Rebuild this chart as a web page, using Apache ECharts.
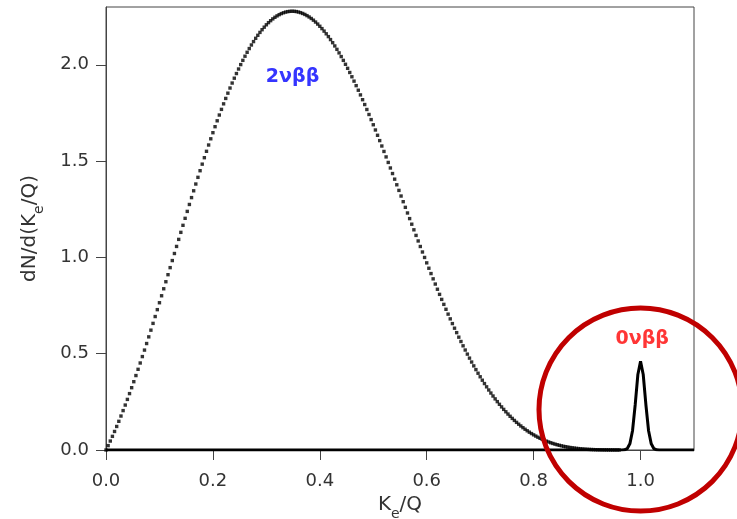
<!DOCTYPE html>
<html>
<head>
<meta charset="utf-8">
<script src="https://cdn.jsdelivr.net/npm/echarts@6/dist/echarts.min.js"></script>
<style>
  html, body { margin: 0; padding: 0; background: #fff; }
  #chart { width: 737px; height: 519px; }
</style>
</head>
<body>
<div id="chart"></div>
<script>
// Two-neutrino double-beta spectrum: summed electron energy K_e/Q
const twoNuX = [
  0.000, 0.004, 0.008, 0.012, 0.016, 0.020, 0.024, 0.028, 0.032, 0.036,
  0.040, 0.044, 0.048, 0.052, 0.056, 0.060, 0.064, 0.068, 0.072, 0.076,
  0.080, 0.084, 0.088, 0.092, 0.096, 0.100, 0.104, 0.108, 0.112, 0.116,
  0.120, 0.124, 0.128, 0.132, 0.136, 0.140, 0.144, 0.148, 0.152, 0.156,
  0.160, 0.164, 0.168, 0.172, 0.176, 0.180, 0.184, 0.188, 0.192, 0.196,
  0.200, 0.204, 0.208, 0.212, 0.216, 0.220, 0.224, 0.228, 0.232, 0.236,
  0.240, 0.244, 0.248, 0.252, 0.256, 0.260, 0.264, 0.268, 0.272, 0.276,
  0.280, 0.284, 0.288, 0.292, 0.296, 0.300, 0.304, 0.308, 0.312, 0.316,
  0.320, 0.324, 0.328, 0.332, 0.336, 0.340, 0.344, 0.348, 0.352, 0.356,
  0.360, 0.364, 0.368, 0.372, 0.376, 0.380, 0.384, 0.388, 0.392, 0.396,
  0.400, 0.404, 0.408, 0.412, 0.416, 0.420, 0.424, 0.428, 0.432, 0.436,
  0.440, 0.444, 0.448, 0.452, 0.456, 0.460, 0.464, 0.468, 0.472, 0.476,
  0.480, 0.484, 0.488, 0.492, 0.496, 0.500, 0.504, 0.508, 0.512, 0.516,
  0.520, 0.524, 0.528, 0.532, 0.536, 0.540, 0.544, 0.548, 0.552, 0.556,
  0.560, 0.564, 0.568, 0.572, 0.576, 0.580, 0.584, 0.588, 0.592, 0.596,
  0.600, 0.604, 0.608, 0.612, 0.616, 0.620, 0.624, 0.628, 0.632, 0.636,
  0.640, 0.644, 0.648, 0.652, 0.656, 0.660, 0.664, 0.668, 0.672, 0.676,
  0.680, 0.684, 0.688, 0.692, 0.696, 0.700, 0.704, 0.708, 0.712, 0.716,
  0.720, 0.724, 0.728, 0.732, 0.736, 0.740, 0.744, 0.748, 0.752, 0.756,
  0.760, 0.764, 0.768, 0.772, 0.776, 0.780, 0.784, 0.788, 0.792, 0.796,
  0.800, 0.804, 0.808, 0.812, 0.816, 0.820, 0.824, 0.828, 0.832, 0.836,
  0.840, 0.844, 0.848, 0.852, 0.856, 0.860, 0.864, 0.868, 0.872, 0.876,
  0.880, 0.884, 0.888, 0.892, 0.896, 0.900, 0.904, 0.908, 0.912, 0.916,
  0.920, 0.924, 0.928, 0.932, 0.936, 0.940, 0.944, 0.948, 0.952, 0.956,
  0.960
];
const twoNuY = [
  0.0000, 0.0228, 0.0465, 0.0709, 0.0962, 0.1222, 0.1489, 0.1763, 0.2045, 0.2333,
  0.2627, 0.2928, 0.3235, 0.3547, 0.3865, 0.4189, 0.4517, 0.4850, 0.5187, 0.5528,
  0.5874, 0.6222, 0.6574, 0.6929, 0.7287, 0.7646, 0.8008, 0.8371, 0.8736, 0.9102,
  0.9468, 0.9835, 1.0202, 1.0569, 1.0935, 1.1300, 1.1665, 1.2028, 1.2388, 1.2748,
  1.3104, 1.3458, 1.3809, 1.4156, 1.4500, 1.4841, 1.5176, 1.5508, 1.5835, 1.6157,
  1.6474, 1.6786, 1.7092, 1.7391, 1.7685, 1.7972, 1.8253, 1.8526, 1.8793, 1.9052,
  1.9304, 1.9545, 1.9781, 2.0009, 2.0230, 2.0445, 2.0648, 2.0842, 2.1028, 2.1204,
  2.1374, 2.1531, 2.1681, 2.1821, 2.1952, 2.2076, 2.2188, 2.2290, 2.2383, 2.2466,
  2.2539, 2.2603, 2.2657, 2.2701, 2.2736, 2.2760, 2.2775, 2.2781, 2.2777, 2.2763,
  2.2739, 2.2707, 2.2664, 2.2613, 2.2552, 2.2482, 2.2404, 2.2316, 2.2219, 2.2114,
  2.2000, 2.1878, 2.1748, 2.1609, 2.1463, 2.1309, 2.1147, 2.0978, 2.0801, 2.0617,
  2.0427, 2.0229, 2.0026, 1.9816, 1.9600, 1.9378, 1.9151, 1.8917, 1.8679, 1.8436,
  1.8188, 1.7936, 1.7679, 1.7419, 1.7154, 1.6886, 1.6615, 1.6340, 1.6063, 1.5783,
  1.5500, 1.5217, 1.4930, 1.4642, 1.4353, 1.4062, 1.3770, 1.3478, 1.3186, 1.2892,
  1.2599, 1.2306, 1.2014, 1.1723, 1.1432, 1.1141, 1.0853, 1.0566, 1.0280, 0.9997,
  0.9716, 0.9437, 0.9160, 0.8886, 0.8615, 0.8346, 0.8081, 0.7819, 0.7561, 0.7306,
  0.7054, 0.6808, 0.6563, 0.6324, 0.6094, 0.5858, 0.5633, 0.5409, 0.5191, 0.4978,
  0.4770, 0.4567, 0.4368, 0.4174, 0.3985, 0.3802, 0.3623, 0.3449, 0.3280, 0.3116,
  0.2957, 0.2803, 0.2654, 0.2511, 0.2372, 0.2238, 0.2109, 0.1985, 0.1866, 0.1751,
  0.1641, 0.1536, 0.1435, 0.1339, 0.1248, 0.1160, 0.1077, 0.0998, 0.0924, 0.0853,
  0.0786, 0.0723, 0.0663, 0.0607, 0.0554, 0.0505, 0.0459, 0.0416, 0.0376, 0.0339,
  0.0305, 0.0273, 0.0244, 0.0217, 0.0192, 0.0170, 0.0149, 0.0131, 0.0114, 0.0099,
  0.0085, 0.0073, 0.0062, 0.0053, 0.0044, 0.0037, 0.0031, 0.0025, 0.0021, 0.0017,
  0.0013, 0.0010, 0.0008, 0.0006, 0.0005, 0.0003, 0.0002, 0.0002, 0.0001, 0.0001,
  0.0001
];

// Neutrinoless peak at the endpoint (zero elsewhere)
const zeroNuX = [0.0, 0.965, 0.970, 0.975, 0.980, 0.985, 0.990, 0.995, 1.000,
                 1.005, 1.010, 1.015, 1.020, 1.025, 1.030, 1.035, 1.1];
const zeroNuY = [0.0, 0.0, 0.001, 0.007, 0.032, 0.100, 0.235, 0.392, 0.460,
                 0.392, 0.235, 0.100, 0.032, 0.007, 0.001, 0.0, 0.0];

const xTicks = [0.0, 0.2, 0.4, 0.6, 0.8, 1.0];
const yTicks = [0.0, 0.5, 1.0, 1.5, 2.0];

const FONT = 'DejaVu Sans';
const AXIS_GREY = '#444';
const TEXT_GREY = '#333';

const chart = echarts.init(document.getElementById('chart'), null, { renderer: 'canvas' });

// "n" = normal text, "s" = subscript pushed to the bottom of a taller line
const nameRich = {
  n: { fontFamily: FONT, fontSize: 20, color: TEXT_GREY, lineHeight: 20, verticalAlign: 'top' },
  s: { fontFamily: FONT, fontSize: 14, color: TEXT_GREY, lineHeight: 26, verticalAlign: 'bottom' }
};

chart.setOption({
  animation: false,
  grid: {
    left: 106, right: 43, top: 7, bottom: 69,
    containLabel: false, outerBoundsMode: 'none',
    show: true, borderColor: AXIS_GREY, borderWidth: 1
  },
  xAxis: {
    type: 'value', min: 0, max: 1.1,
    axisLine: { show: true, onZero: false, lineStyle: { color: AXIS_GREY, width: 1 } },
    axisTick: { show: true, length: 10, customValues: xTicks, lineStyle: { color: AXIS_GREY } },
    axisLabel: {
      customValues: xTicks, formatter: v => v.toFixed(1), margin: 22,
      fontFamily: FONT, fontSize: 18, color: TEXT_GREY
    },
    splitLine: { show: false },
    name: '{n|K}{s|e}{n|/Q}', nameLocation: 'middle', nameGap: 40,
    nameTextStyle: { rich: nameRich }
  },
  yAxis: {
    type: 'value', min: 0, max: 2.3,
    axisLine: { show: true, lineStyle: { color: AXIS_GREY, width: 1 } },
    axisTick: { show: true, length: 10, customValues: yTicks, lineStyle: { color: AXIS_GREY } },
    axisLabel: {
      customValues: yTicks, formatter: v => v.toFixed(1), margin: 17,
      fontFamily: FONT, fontSize: 18, color: TEXT_GREY
    },
    splitLine: { show: false },
    name: '{n|dN/d(K}{s|e}{n|/Q)}', nameLocation: 'middle', nameGap: 60,
    nameTextStyle: { rich: nameRich }
  },
  series: [
    {
      name: '0νββ', type: 'line',
      data: zeroNuX.map((x, i) => [x, zeroNuY[i]]),
      showSymbol: false, smooth: false, silent: true,
      lineStyle: { color: '#000', width: 3 }, z: 2
    },
    {
      name: '2νββ', type: 'scatter',
      data: twoNuX.map((x, i) => [x, twoNuY[i]]),
      symbol: 'rect', symbolSize: 3.4, silent: true,
      itemStyle: { color: '#000' }, z: 3
    }
  ]
});

// Annotations placed in data coordinates
const ringCenter = [1.0, 0.21];
const ringRadiusX = 0.19;
const label2Pos = [0.349, 1.938];
const label0Pos = [1.003, 0.575];

const toPx = p => chart.convertToPixel({ gridIndex: 0 }, p);
const rc = toPx(ringCenter);
const re = toPx([ringCenter[0] + ringRadiusX, ringCenter[1]]);
const l2 = toPx(label2Pos);
const l0 = toPx(label0Pos);

chart.setOption({
  graphic: [
    {
      type: 'text', x: l2[0], y: l2[1], z: 50,
      style: { text: '2νββ', fill: '#3535ff', fontFamily: FONT, fontSize: 19, fontWeight: 'bold',
               align: 'center', verticalAlign: 'middle' }
    },
    {
      type: 'text', x: l0[0], y: l0[1], z: 50,
      style: { text: '0νββ', fill: '#ff3535', fontFamily: FONT, fontSize: 19, fontWeight: 'bold',
               align: 'center', verticalAlign: 'middle' }
    },
    {
      type: 'circle', z: 100,
      shape: { cx: rc[0], cy: rc[1], r: re[0] - rc[0] },
      style: { fill: 'none', stroke: '#c00000', lineWidth: 5 }
    }
  ]
});
</script>
</body>
</html>
